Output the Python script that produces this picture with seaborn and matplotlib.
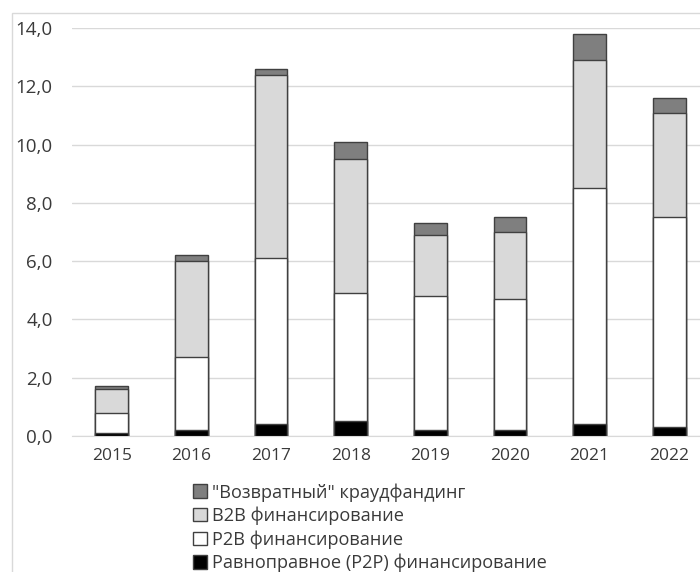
import numpy as np
import pandas as pd
import matplotlib
matplotlib.use('Agg')
import matplotlib.pyplot as plt
import matplotlib.patches as patches
from matplotlib.patches import Patch
from matplotlib.ticker import FuncFormatter, FixedLocator
import seaborn as sns

# Data (bn rubles), stacked from bottom to top
years = ['2015', '2016', '2017', '2018', '2019', '2020', '2021', '2022']
p2p = [0.1, 0.2, 0.4, 0.5, 0.2, 0.2, 0.4, 0.3]
p2b = [0.7, 2.5, 5.7, 4.4, 4.6, 4.5, 8.1, 7.2]
b2b = [0.8, 3.3, 6.3, 4.6, 2.1, 2.3, 4.4, 3.6]
vozvrat = [0.1, 0.2, 0.2, 0.6, 0.4, 0.5, 0.9, 0.5]

labels = ['"Возвратный" краудфандинг', 'B2B финансирование',
          'P2B финансирование', 'Равноправное (P2P) финансирование']
colors = ['#7f7f7f', '#d9d9d9', '#ffffff', '#000000']

df = pd.DataFrame({'Год': years, 'P2P': p2p, 'P2B': p2b, 'B2B': b2b, 'Возвратный': vozvrat})
df['c1'] = df['P2P']
df['c2'] = df['c1'] + df['P2B']
df['c3'] = df['c2'] + df['B2B']
df['c4'] = df['c3'] + df['Возвратный']

sns.set_style('white')
plt.rcParams['font.family'] = ['Open Sans', 'DejaVu Sans']

fig = plt.figure(figsize=(7, 5.72), dpi=100)
ax = fig.add_axes([72 / 700, 1 - 436 / 572, 637 / 700, (436 - 28) / 572])

# draw cumulative totals, tallest first, so each layer covers the one below
for col, color in zip(['c4', 'c3', 'c2', 'c1'], colors):
    sns.barplot(data=df, x='Год', y=col, color=color, width=0.41, saturation=1,
                edgecolor='#404040', linewidth=1, errorbar=None, ax=ax, zorder=3)

ax.set_xlim(-0.5, 7.5)
ax.set_ylim(0, 14)
ax.set_yticks(np.arange(0, 15, 2))
ax.yaxis.set_major_formatter(FuncFormatter(lambda v, _: f'{v:.1f}'.replace('.', ',')))
ax.grid(axis='y', color='#d9d9d9', lw=1)
ax.set_axisbelow(True)
for s in ['left', 'right', 'top']:
    ax.spines[s].set_visible(False)
ax.spines['bottom'].set_color('#d9d9d9')
ax.xaxis.set_minor_locator(FixedLocator(np.arange(-0.5, 8, 1)))
ax.tick_params(axis='x', which='major', length=0, pad=9, labelsize=12.5, labelcolor='#3a3a3a')
ax.tick_params(axis='x', which='minor', length=5, color='#d9d9d9', width=1)
ax.tick_params(axis='y', length=0, pad=14, labelsize=13.5, labelcolor='#3a3a3a')
ax.set_xlabel('')
ax.set_ylabel('')

handles = [Patch(facecolor=c, edgecolor='#404040', lw=1, label=l) for c, l in zip(colors, labels)]
fig.legend(handles=handles, loc='upper left', bbox_to_anchor=(193 / 700, 1 - 483 / 572),
           frameon=False, fontsize=13.1, handlelength=0.75, handleheight=0.75,
           handletextpad=0.3, labelspacing=0.28, borderaxespad=0, borderpad=0,
           labelcolor='#3a3a3a')

# light chart frame like the spreadsheet chart area
fig.patches.append(patches.Rectangle((12 / 700, -0.1), 1.2, 1.1 - 13 / 572,
                                     transform=fig.transFigure, fill=False,
                                     edgecolor='#d9d9d9', lw=1))

fig.savefig('out.png', dpi=100)
